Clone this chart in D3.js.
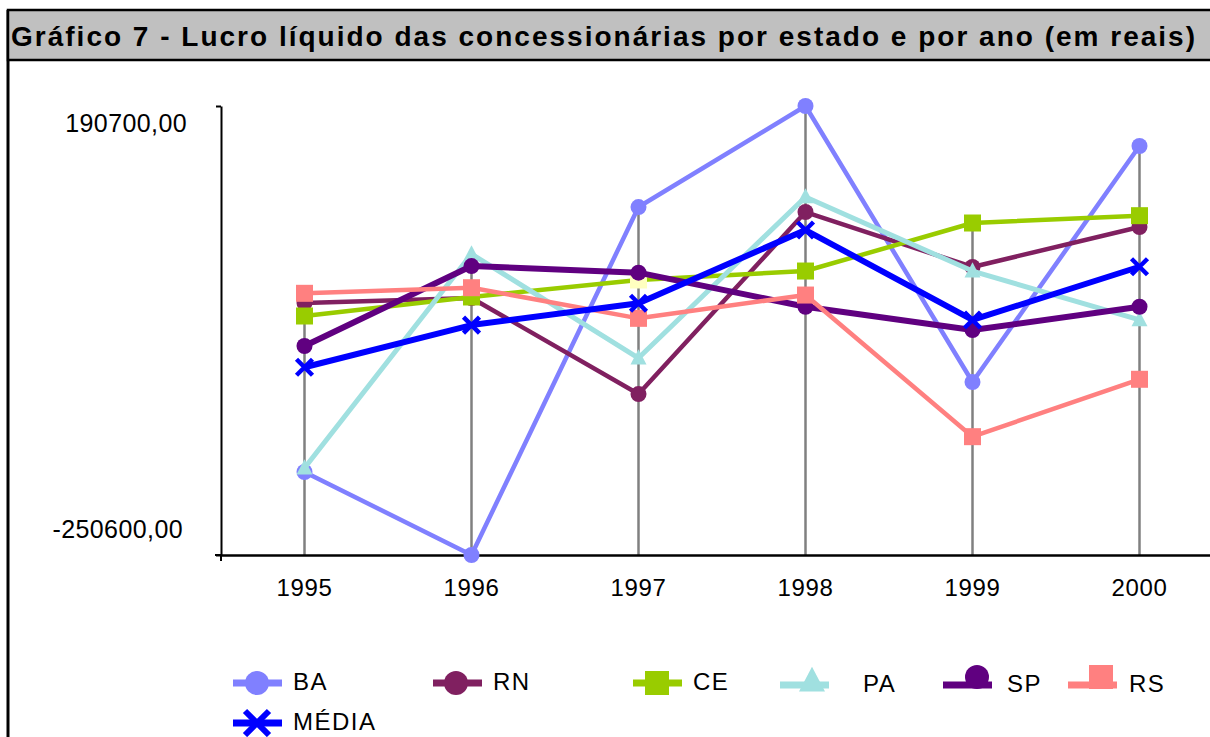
<!DOCTYPE html>
<html>
<head>
<meta charset="utf-8">
<script src="https://cdn.jsdelivr.net/npm/d3@7"></script>
<style>
  body { margin: 0; background: #fff; }
  text { font-family: "Liberation Sans", Arial, sans-serif; }
</style>
</head>
<body>
<div id="chart"></div>
<script>

// dados
var anos = ['1995', '1996', '1997', '1998', '1999', '2000'];
var ba    = [-169000, -250600,  91400, 190700, -80600, 151400];
var rn    = [  -2900,    2000, -92400,  86500,  32500,  71800];
var ce    = [ -15700,    3000,  19700,  28500,  75700,  82900];
var pa    = [-165100,   45200, -57000, 101300,  28500, -19600];
var sp    = [ -45200,   33400,  26900,  -6600, -29500,  -6600];
var rs    = [   6600,   12100, -18000,   4900, -134300, -77900];
var media = [ -66100,  -24600,  -3200,  68800, -19600,  32700];
var yTicks = [190700, -250600];

var series = [
  { nome: 'BA', valores: ba, cor: '#8080ff', marca: 'circle', larg: 4.5 },
  { nome: 'RN', valores: rn, cor: '#802060', marca: 'circle', larg: 4.5 },
  { nome: 'CE', valores: ce, cor: '#99cc00', marca: 'square', larg: 4.5 },
  { nome: 'PA', valores: pa, cor: '#a0e0e0', marca: 'triangle', larg: 5 },
  { nome: 'SP', valores: sp, cor: '#600080', marca: 'circle', larg: 6 },
  { nome: 'RS', valores: rs, cor: '#ff8080', marca: 'square', larg: 4.5 },
  { nome: 'MÉDIA', valores: media, cor: '#0000ff', marca: 'x', larg: 6 }
];

var svg = d3.select('#chart')
    .append('svg')
        .attr('width', 1210)
        .attr('height', 737);

svg.append('rect')
    .attr('width', 1210)
    .attr('height', 737)
    .style('fill', 'white');

// moldura e barra de titulo
svg.append('line')
    .attr('x1', 8).attr('y1', 10)
    .attr('x2', 8).attr('y2', 737)
    .attr('stroke', 'black')
    .style('stroke-width', 3);

svg.append('rect')
    .attr('x', 8)
    .attr('y', 10)
    .attr('width', 1215)
    .attr('height', 50)
    .style('fill', '#c0c0c0')
    .attr('stroke', 'black')
    .style('stroke-width', 2.5);

svg.append('text')
    .attr('x', 11)
    .attr('y', 46)
    .attr('textLength', 1184)
    .attr('lengthAdjust', 'spacing')
    .style('font-size', '28px')
    .style('font-weight', 'bold')
    .text('Gráfico 7 - Lucro líquido das concessionárias por estado e por ano (em reais)');

var x = d3.scaleBand()
    .domain(anos)
    .range([221, 1223]);

var y = d3.scaleLinear()
    .domain([-250600, 190700])
    .range([555, 106]);

var cx = function(i) { return x(anos[i]) + x.bandwidth() / 2; };

// linhas de queda (do maior valor ate o eixo)
anos.forEach(function(a, i) {
    var maximo = d3.max(series, function(s) { return s.valores[i]; });
    svg.append('line')
        .attr('x1', cx(i)).attr('x2', cx(i))
        .attr('y1', y(maximo)).attr('y2', 555)
        .attr('stroke', '#808080')
        .style('stroke-width', 2.5);
});

// eixos
var eixoY = svg.append('g')
    .attr('transform', 'translate(221,0)')
    .call(d3.axisLeft(y).tickValues(yTicks).tickSize(5).tickSizeOuter(0)
        .tickFormat(function(d) { return d3.format('.2f')(d).replace('.', ',').replace('\u2212', '-'); }));
eixoY.select('.domain').attr('stroke', 'black').style('stroke-width', 2);
eixoY.selectAll('.tick line').attr('stroke', 'black').style('stroke-width', 2);
eixoY.selectAll('text')
    .style('font-size', '25px')
    .style('letter-spacing', '0.4px')
    .attr('fill', 'black')
    .attr('x', function(d) { return d > 0 ? -34 : -38; })
    .attr('dy', function(d) { return d > 0 ? '1.0em' : '-0.7em'; });

var eixoX = svg.append('g')
    .attr('transform', 'translate(0,555)')
    .call(d3.axisBottom(x).tickSize(0).tickPadding(24).tickSizeOuter(0));
eixoX.select('.domain').attr('stroke', 'black').style('stroke-width', 2.5);
eixoX.selectAll('text')
    .style('font-size', '24px')
    .style('letter-spacing', '0.6px')
    .attr('fill', 'black');

svg.append('line')
    .attr('x1', 221).attr('x2', 221)
    .attr('y1', 555).attr('y2', 561)
    .attr('stroke', 'black').style('stroke-width', 2);
svg.append('line')
    .attr('x1', 215).attr('x2', 221)
    .attr('y1', 555).attr('y2', 555)
    .attr('stroke', 'black').style('stroke-width', 2);

// desenho de marcadores
function marcador(g, tipo, px, py, cor, tam) {
    if (tipo === 'circle') {
        g.append('circle')
            .attr('cx', px).attr('cy', py).attr('r', tam / 2)
            .style('fill', cor);
    } else if (tipo === 'square') {
        g.append('rect')
            .attr('x', px - tam / 2).attr('y', py - tam / 2)
            .attr('width', tam).attr('height', tam)
            .style('fill', cor);
    } else if (tipo === 'triangle') {
        g.append('polyline')
            .attr('points', (px) + ',' + (py - tam * 0.55) + ' ' + (px + tam / 2) + ',' + (py + tam * 0.4) +
                ' ' + (px - tam / 2) + ',' + (py + tam * 0.4))
            .style('fill', cor);
    } else {
        var h = tam / 2;
        g.append('path')
            .attr('d', 'M' + (px - h) + ',' + (py - h) + 'L' + (px + h) + ',' + (py + h) +
                'M' + (px - h) + ',' + (py + h) + 'L' + (px + h) + ',' + (py - h))
            .attr('stroke', cor)
            .style('stroke-width', 4.5)
            .style('fill', 'none');
    }
}

var linha = d3.line()
    .x(function(d, i) { return cx(i); })
    .y(function(d) { return y(d); });

series.forEach(function(s) {
    var g = svg.append('g');
    g.append('path')
        .attr('d', linha(s.valores))
        .attr('stroke', s.cor)
        .style('stroke-width', s.larg)
        .style('stroke-linejoin', 'round')
        .style('fill', 'none');
    s.valores.forEach(function(v, i) {
        var cor = s.cor;
        if (s.nome === 'CE' && i === 2) cor = '#ffffc0';
        marcador(g, s.marca, cx(i), y(v), cor, s.marca === 'square' ? 17 : 16);
    });
});

// legenda
var legenda = [
  { lx: 233, ly: 683, mx: 257, my: 683, tx: 293 },
  { lx: 433, ly: 683, mx: 456, my: 683, tx: 493 },
  { lx: 633, ly: 683, mx: 657, my: 683, tx: 693 },
  { lx: 780, ly: 685, mx: 812, my: 681, tx: 863 },
  { lx: 943, ly: 685, mx: 977, my: 677, tx: 1007 },
  { lx: 1068, ly: 685, mx: 1101, my: 677, tx: 1129 },
  { lx: 233, ly: 723, mx: 257, my: 723, tx: 293 }
];

series.forEach(function(s, i) {
    var p = legenda[i];
    var g = svg.append('g');
    if (s.marca === 'circle' && s.nome === 'SP') {
        marcador(g, 'circle', p.mx, p.my, s.cor, 24);
    }
    g.append('line')
        .attr('x1', p.lx).attr('x2', p.lx + 49)
        .attr('y1', p.ly).attr('y2', p.ly)
        .attr('stroke', s.cor)
        .style('stroke-width', 7);
    if (s.marca === 'x') {
        var h = 12;
        g.append('path')
            .attr('d', 'M' + (p.mx - h) + ',' + (p.my - h) + 'L' + (p.mx + h) + ',' + (p.my + h) +
                'M' + (p.mx - h) + ',' + (p.my + h) + 'L' + (p.mx + h) + ',' + (p.my - h))
            .attr('stroke', s.cor)
            .style('stroke-width', 6);
    } else if (s.nome !== 'SP') {
        marcador(g, s.marca, p.mx, p.my, s.cor, s.marca === 'triangle' ? 26 : 24);
    }
    g.append('text')
        .attr('x', p.tx)
        .attr('y', p.ly + 7)
        .style('font-size', '24px')
        .style('letter-spacing', '1.5px')
        .text(s.nome);
});

</script>
</body>
</html>
